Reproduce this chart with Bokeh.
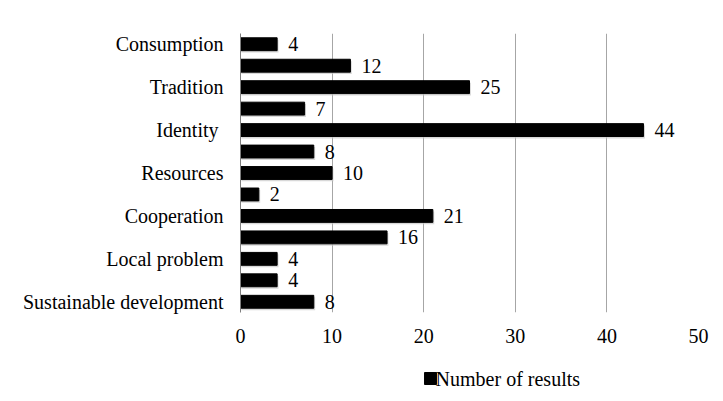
from bokeh.plotting import figure
from bokeh.models import ColumnDataSource, Range1d, FixedTicker
from bokeh.layouts import column
from bokeh.core.properties import value
from bokeh.embed import file_html
from bokeh.resources import INLINE

# data (top to bottom); only every other category label is shown in the original
values = [4, 12, 25, 7, 44, 8, 10, 2, 21, 16, 4, 4, 8]
shown_labels = ["Consumption", "Tradition", "Identity ", "Resources",
                "Cooperation", "Local problem", "Sustainable development"]
x_ticks = [0, 10, 20, 30, 40, 50]
series_name = "Number of results"

FONT = "Liberation Serif"
FS = "20px"

pos = list(range(len(values)))
src = ColumnDataSource(dict(y=pos, v=values, lab=[str(v) for v in values],
                            ys=[y + 0.09 for y in pos], vs=[v + 0.15 for v in values]))

p = figure(width=723, height=356, output_backend="svg", toolbar_location=None,
           x_range=Range1d(0, 50), y_range=Range1d(len(values) - 0.5, -0.5),
           min_border_left=240, min_border_right=25, min_border_top=33,
           min_border_bottom=44)
p.outline_line_color = None

# soft shadow under bars
p.hbar(y="ys", right="vs", left=0.1, height=0.6, source=src,
       fill_color="#c8c8c8", fill_alpha=0.7, line_color=None)
p.hbar(y="y", right="v", left=0, height=0.6, source=src,
       fill_color="black", line_color="black")
p.text(x="v", y="y", text="lab", source=src, x_offset=11,
       text_baseline="middle", text_align="left",
       text_font=value(FONT), text_font_size=FS, text_color="black")

p.xaxis.ticker = FixedTicker(ticks=x_ticks)
p.xaxis.axis_line_color = None
p.xaxis.major_tick_line_color = None
p.xaxis.minor_tick_line_color = None
p.xaxis.major_label_standoff = 10
p.xaxis.major_label_text_font = FONT
p.xaxis.major_label_text_font_size = FS
p.xaxis.major_label_text_color = "black"

p.yaxis.ticker = FixedTicker(ticks=pos[::2])
p.yaxis.major_label_overrides = {i: shown_labels[k] for k, i in enumerate(pos[::2])}
p.yaxis.axis_line_color = "#7f7f7f"
p.yaxis.major_tick_line_color = None
p.yaxis.minor_tick_line_color = None
p.yaxis.major_label_standoff = 11
p.yaxis.major_label_text_font = FONT
p.yaxis.major_label_text_font_size = FS
p.yaxis.major_label_text_color = "black"

p.xgrid.grid_line_color = "#a6a6a6"
p.ygrid.grid_line_color = None

# legend strip below the chart (pixel-scaled ranges)
p2 = figure(width=723, height=45, output_backend="svg", toolbar_location=None,
            x_range=Range1d(0, 723), y_range=Range1d(0, 45),
            x_axis_location=None, y_axis_location=None,
            min_border_left=0, min_border_right=0, min_border_top=0,
            min_border_bottom=0)
p2.outline_line_color = None
p2.grid.grid_line_color = None
p2.scatter(x=[300], y=[23], marker="square", size=12,
           fill_color="black", line_color="black")
p2.text(x=[308], y=[23], text=[series_name], text_baseline="middle",
        text_align="left", text_font=value(FONT), text_font_size=FS,
        text_color="black")

open("out.html", "w").write(file_html(column(p, p2), INLINE))
